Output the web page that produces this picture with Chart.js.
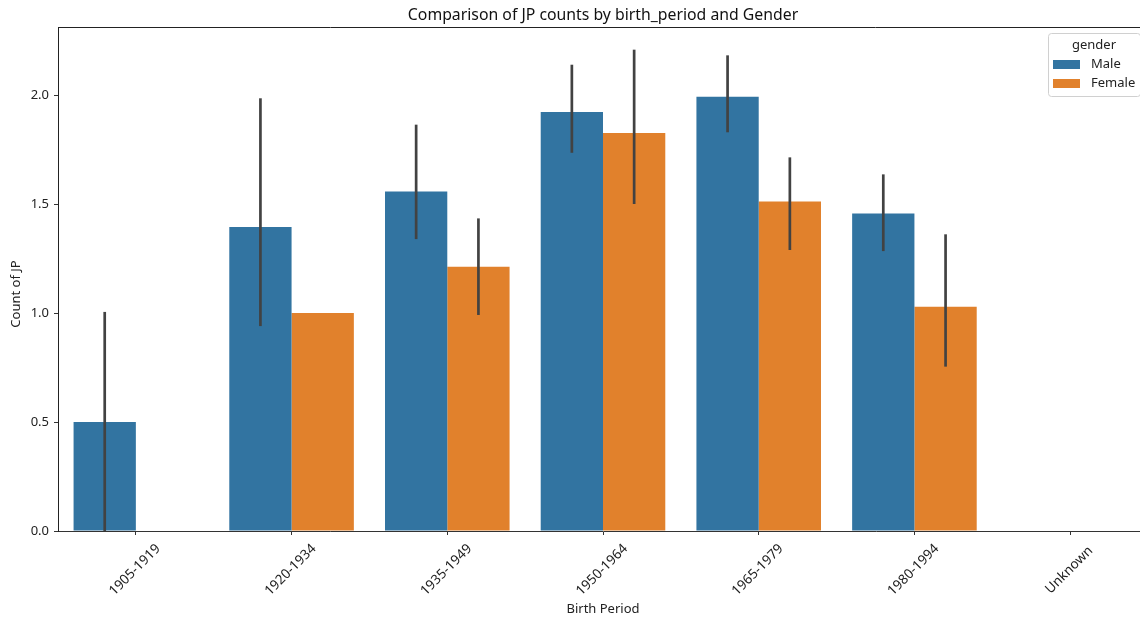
<!DOCTYPE html>
<html>
<head>
<meta charset="utf-8">
<script src="https://cdn.jsdelivr.net/npm/chart.js@4"></script>
<style>
html,body{margin:0;padding:0;overflow:hidden;background:#fff;}
#wrap{width:1148px;height:622px;}
</style>
</head>
<body>
<div id="wrap"><canvas id="c" width="1148" height="622"></canvas></div>
<script>
const categories = ['1905-1919','1920-1934','1935-1949','1950-1964','1965-1979','1980-1994','Unknown'];
const maleValues   = [0.50, 1.394, 1.557, 1.922, 1.992, 1.457, null];
const femaleValues = [null, 1.00, 1.212, 1.826, 1.512, 1.029, null];
const maleLow    = [0.00, 0.94, 1.339, 1.735, 1.829, 1.284, null];
const maleHigh   = [1.005, 1.985, 1.864, 2.139, 2.182, 1.636, null];
const femaleLow  = [null, null, 0.991, 1.50, 1.289, 0.754, null];
const femaleHigh = [null, null, 1.434, 2.208, 1.714, 1.361, null];
const yTicks = [0, 0.5, 1.0, 1.5, 2.0];
const seriesNames = ['Male','Female'];
const colors = ['#3274a1','#e1812c'];
const FONT = '"Noto Sans", "Noto Sans CJK JP", sans-serif';

const errs = [[maleLow, maleHigh],[femaleLow, femaleHigh]];

const customDraw = {
  id: 'customDraw',
  afterDatasetsDraw(chart) {
    const ctx = chart.ctx;
    const ys = chart.scales.y;
    ctx.save();
    ctx.strokeStyle = '#424242';
    ctx.lineWidth = 2.7;
    ctx.lineCap = 'butt';
    for (let d = 0; d < 2; d++) {
      const meta = chart.getDatasetMeta(d);
      meta.data.forEach((el, i) => {
        const lo = errs[d][0][i], hi = errs[d][1][i];
        if (lo == null || hi == null) return;
        ctx.beginPath();
        ctx.moveTo(el.x, ys.getPixelForValue(lo));
        ctx.lineTo(el.x, ys.getPixelForValue(hi));
        ctx.stroke();
      });
    }
    ctx.restore();
  },
  afterDraw(chart) {
    const ctx = chart.ctx;
    const a = chart.chartArea;
    const xs = chart.scales.x;
    ctx.save();
    ctx.strokeStyle = '#222';
    ctx.lineWidth = 1;
    ctx.beginPath();
    ctx.moveTo(a.left, a.top + 0.5);
    ctx.lineTo(a.right, a.top + 0.5);
    ctx.moveTo(a.right - 0.5, a.top);
    ctx.lineTo(a.right - 0.5, a.bottom);
    ctx.stroke();
    ctx.fillStyle = '#111';
    ctx.font = '15.8px ' + FONT;
    ctx.textAlign = 'center';
    ctx.textBaseline = 'middle';
    ctx.fillText('Comparison of JP counts by birth_period and Gender', 603, 15);
    ctx.font = '13px ' + FONT;
    ctx.fillStyle = '#222';
    ctx.fillText('Birth Period', 603, 609);
    ctx.save();
    ctx.translate(16, 294);
    ctx.rotate(-Math.PI / 2);
    ctx.fillText('Count of JP', 0, 0);
    ctx.restore();
    ctx.font = '13.5px ' + FONT;
    categories.forEach((c, i) => {
      const x = xs.getPixelForValue(i);
      ctx.save();
      ctx.translate(x - 1, 570);
      ctx.rotate(-Math.PI / 4);
      ctx.fillText(c, 0, 0);
      ctx.restore();
    });
    const lx = 1048, ly = 33, lw = 92, lh = 63;
    ctx.fillStyle = 'rgba(255,255,255,0.8)';
    ctx.strokeStyle = '#d0d0d0';
    ctx.lineWidth = 1;
    ctx.beginPath();
    ctx.roundRect(lx + 0.5, ly + 0.5, lw, lh, 3);
    ctx.fill();
    ctx.stroke();
    ctx.fillStyle = '#222';
    ctx.font = '13px ' + FONT;
    ctx.textAlign = 'center';
    ctx.fillText('gender', 1094, 45);
    ctx.textAlign = 'left';
    seriesNames.forEach((n, i) => {
      const y = 64 + i * 19;
      ctx.fillStyle = colors[i];
      ctx.fillRect(1053, y - 4, 27, 9);
      ctx.fillStyle = '#222';
      ctx.fillText(n, 1091, y);
    });
    ctx.restore();
  }
};

new Chart(document.getElementById('c'), {
  type: 'bar',
  data: {
    labels: categories,
    datasets: [
      { label: seriesNames[0], data: maleValues, backgroundColor: colors[0], borderWidth: 0 },
      { label: seriesNames[1], data: femaleValues, backgroundColor: colors[1], borderWidth: 0 }
    ]
  },
  options: {
    responsive: false,
    animation: false,
    devicePixelRatio: 1,
    layout: { padding: { top: 27, left: 0, right: 0, bottom: 0 } },
    datasets: { bar: { categoryPercentage: 0.8, barPercentage: 1.0 } },
    plugins: { legend: { display: false }, title: { display: false }, tooltip: { enabled: false } },
    scales: {
      x: {
        offset: true,
        grid: { display: true, drawOnChartArea: false, drawTicks: true, tickLength: 4, offset: false, color: '#333' },
        border: { display: true, color: '#333', width: 1 },
        ticks: { display: false },
        afterFit(s) { s.height = 91; }
      },
      y: {
        min: 0,
        max: 2.312,
        grid: { display: true, drawOnChartArea: false, drawTicks: true, tickLength: 4, color: '#333' },
        border: { display: true, color: '#222', width: 1 },
        ticks: {
          includeBounds: false,
          padding: 5,
          color: '#222',
          font: { family: FONT, size: 13 },
          callback: (v) => Number(v).toFixed(1)
        },
        afterBuildTicks(s) { s.ticks = yTicks.map(v => ({ value: v })); },
        afterFit(s) { s.width = 58; }
      }
    }
  },
  plugins: [customDraw]
});
</script>
</body>
</html>
